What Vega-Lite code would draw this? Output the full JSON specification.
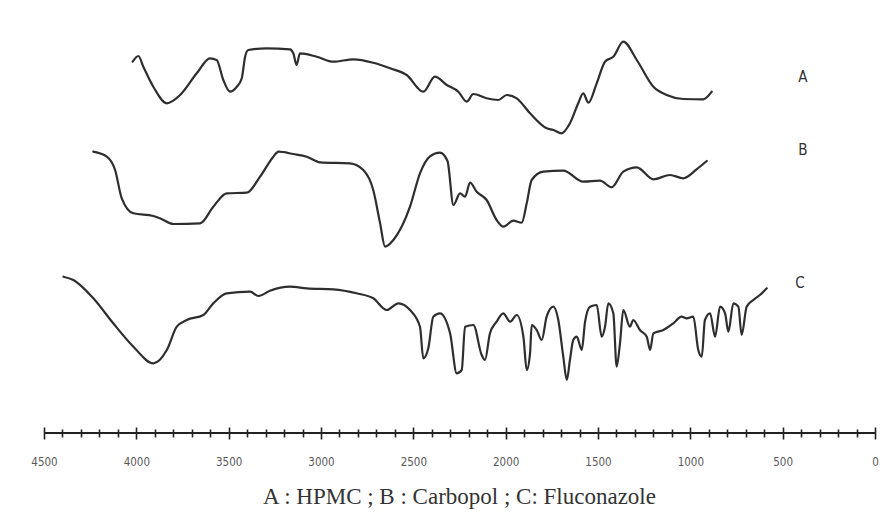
{
  "$schema": "https://vega.github.io/schema/vega-lite/v6.json",
  "autosize": "none",
  "width": 831,
  "height": 413,
  "padding": {"left": 44, "top": 20, "right": 14, "bottom": 86},
  "background": "white",
  "view": {"stroke": null},
  "config": {"axis": {"grid": false}},
  "title": {"text": "A : HPMC ; B : Carbopol ; C: Fluconazole", "orient": "bottom", "font": "Liberation Serif", "fontSize": 23, "fontWeight": "normal", "color": "#333333", "offset": 18, "anchor": "middle"},
  "datasets": {
    "spectra": [
      {"s":"A","wn":4020,"t":371.3},{"s":"A","wn":3989,"t":377},{"s":"A","wn":3962,"t":366.3},{"s":"A","wn":3908,"t":346.3},{"s":"A","wn":3835,"t":329.7},{"s":"A","wn":3763,"t":338},{"s":"A","wn":3673,"t":359.7},{"s":"A","wn":3601,"t":374.7},{"s":"A","wn":3565,"t":373},{"s":"A","wn":3529,"t":353},{"s":"A","wn":3493,"t":341.3},{"s":"A","wn":3456,"t":346.3},{"s":"A","wn":3429,"t":354.7},{"s":"A","wn":3411,"t":376.3},{"s":"A","wn":3394,"t":383},{"s":"A","wn":3294,"t":384.7},{"s":"A","wn":3168,"t":383.7},{"s":"A","wn":3150,"t":379.7},{"s":"A","wn":3132,"t":368},{"s":"A","wn":3114,"t":379.7},{"s":"A","wn":3023,"t":376.3},{"s":"A","wn":2933,"t":371.3},{"s":"A","wn":2825,"t":373.7},{"s":"A","wn":2717,"t":370.3},{"s":"A","wn":2626,"t":364.7},{"s":"A","wn":2536,"t":358},{"s":"A","wn":2446,"t":341.3},{"s":"A","wn":2383,"t":356.3},{"s":"A","wn":2319,"t":348},{"s":"A","wn":2256,"t":341.3},{"s":"A","wn":2211,"t":331.3},{"s":"A","wn":2175,"t":339},{"s":"A","wn":2103,"t":334.7},{"s":"A","wn":2040,"t":333},{"s":"A","wn":1994,"t":338},{"s":"A","wn":1940,"t":334.7},{"s":"A","wn":1868,"t":319.7},{"s":"A","wn":1778,"t":304.7},{"s":"A","wn":1742,"t":303},{"s":"A","wn":1697,"t":299.7},{"s":"A","wn":1652,"t":309.7},{"s":"A","wn":1607,"t":329.7},{"s":"A","wn":1580,"t":339.7},{"s":"A","wn":1552,"t":330.3},{"s":"A","wn":1507,"t":349.7},{"s":"A","wn":1462,"t":371.3},{"s":"A","wn":1417,"t":376.3},{"s":"A","wn":1363,"t":391.3},{"s":"A","wn":1290,"t":373},{"s":"A","wn":1200,"t":346.3},{"s":"A","wn":1128,"t":338},{"s":"A","wn":1038,"t":334},{"s":"A","wn":930,"t":333.7},{"s":"A","wn":884,"t":341.3},
      {"s":"B","wn":4233,"t":281.3},{"s":"B","wn":4160,"t":276.3},{"s":"B","wn":4115,"t":263},{"s":"B","wn":4079,"t":234.7},{"s":"B","wn":4016,"t":219.7},{"s":"B","wn":3908,"t":217},{"s":"B","wn":3872,"t":214.7},{"s":"B","wn":3800,"t":209},{"s":"B","wn":3655,"t":209.7},{"s":"B","wn":3583,"t":226.3},{"s":"B","wn":3511,"t":239.7},{"s":"B","wn":3402,"t":240.3},{"s":"B","wn":3330,"t":256.3},{"s":"B","wn":3258,"t":276.3},{"s":"B","wn":3231,"t":281.3},{"s":"B","wn":3150,"t":279},{"s":"B","wn":3077,"t":276.3},{"s":"B","wn":3005,"t":270.7},{"s":"B","wn":2843,"t":269.7},{"s":"B","wn":2771,"t":263},{"s":"B","wn":2717,"t":243},{"s":"B","wn":2680,"t":209.7},{"s":"B","wn":2653,"t":186.3},{"s":"B","wn":2608,"t":193},{"s":"B","wn":2518,"t":226.3},{"s":"B","wn":2464,"t":259.7},{"s":"B","wn":2410,"t":276.7},{"s":"B","wn":2356,"t":280.3},{"s":"B","wn":2315,"t":272},{"s":"B","wn":2283,"t":228},{"s":"B","wn":2247,"t":239.7},{"s":"B","wn":2220,"t":236.3},{"s":"B","wn":2193,"t":250.3},{"s":"B","wn":2157,"t":241.3},{"s":"B","wn":2103,"t":233},{"s":"B","wn":2049,"t":213},{"s":"B","wn":2013,"t":206.3},{"s":"B","wn":1959,"t":212.3},{"s":"B","wn":1913,"t":210.3},{"s":"B","wn":1886,"t":229.7},{"s":"B","wn":1859,"t":253},{"s":"B","wn":1796,"t":261.3},{"s":"B","wn":1688,"t":262.3},{"s":"B","wn":1580,"t":251.3},{"s":"B","wn":1489,"t":252.3},{"s":"B","wn":1426,"t":245.7},{"s":"B","wn":1363,"t":261.3},{"s":"B","wn":1290,"t":265.7},{"s":"B","wn":1200,"t":253.7},{"s":"B","wn":1110,"t":258},{"s":"B","wn":1038,"t":254.7},{"s":"B","wn":966,"t":263.7},{"s":"B","wn":911,"t":272},
      {"s":"C","wn":4395,"t":156.3},{"s":"C","wn":4341,"t":153},{"s":"C","wn":4233,"t":134.7},{"s":"C","wn":4125,"t":109.7},{"s":"C","wn":4016,"t":86.3},{"s":"C","wn":3908,"t":69.7},{"s":"C","wn":3835,"t":83},{"s":"C","wn":3781,"t":106.3},{"s":"C","wn":3727,"t":113},{"s":"C","wn":3637,"t":118},{"s":"C","wn":3583,"t":129.7},{"s":"C","wn":3511,"t":139.7},{"s":"C","wn":3384,"t":141.3},{"s":"C","wn":3339,"t":137},{"s":"C","wn":3276,"t":142.3},{"s":"C","wn":3168,"t":146.3},{"s":"C","wn":3077,"t":144.7},{"s":"C","wn":2933,"t":143.7},{"s":"C","wn":2807,"t":139.7},{"s":"C","wn":2717,"t":134.7},{"s":"C","wn":2644,"t":123},{"s":"C","wn":2581,"t":129.7},{"s":"C","wn":2518,"t":123},{"s":"C","wn":2464,"t":106.3},{"s":"C","wn":2446,"t":74.7},{"s":"C","wn":2419,"t":84.7},{"s":"C","wn":2392,"t":116.3},{"s":"C","wn":2356,"t":119.7},{"s":"C","wn":2301,"t":99.7},{"s":"C","wn":2265,"t":59.7},{"s":"C","wn":2238,"t":63},{"s":"C","wn":2220,"t":106.3},{"s":"C","wn":2175,"t":108},{"s":"C","wn":2130,"t":78},{"s":"C","wn":2112,"t":73},{"s":"C","wn":2085,"t":99.7},{"s":"C","wn":2049,"t":111.3},{"s":"C","wn":2013,"t":119.7},{"s":"C","wn":1976,"t":111.3},{"s":"C","wn":1940,"t":118},{"s":"C","wn":1904,"t":96.3},{"s":"C","wn":1886,"t":63},{"s":"C","wn":1868,"t":79.7},{"s":"C","wn":1859,"t":108},{"s":"C","wn":1832,"t":103},{"s":"C","wn":1805,"t":93},{"s":"C","wn":1778,"t":116.3},{"s":"C","wn":1742,"t":126.3},{"s":"C","wn":1715,"t":113},{"s":"C","wn":1688,"t":76.3},{"s":"C","wn":1669,"t":53},{"s":"C","wn":1652,"t":73},{"s":"C","wn":1634,"t":93},{"s":"C","wn":1615,"t":96.3},{"s":"C","wn":1588,"t":83},{"s":"C","wn":1570,"t":111.3},{"s":"C","wn":1543,"t":126.3},{"s":"C","wn":1507,"t":128},{"s":"C","wn":1480,"t":96.3},{"s":"C","wn":1462,"t":106.3},{"s":"C","wn":1444,"t":129.7},{"s":"C","wn":1417,"t":119.7},{"s":"C","wn":1399,"t":66.3},{"s":"C","wn":1381,"t":89.7},{"s":"C","wn":1363,"t":123},{"s":"C","wn":1327,"t":106.3},{"s":"C","wn":1309,"t":113},{"s":"C","wn":1273,"t":103},{"s":"C","wn":1236,"t":96.3},{"s":"C","wn":1218,"t":83},{"s":"C","wn":1200,"t":99.7},{"s":"C","wn":1146,"t":103},{"s":"C","wn":1092,"t":109.7},{"s":"C","wn":1047,"t":116.3},{"s":"C","wn":1020,"t":114.7},{"s":"C","wn":984,"t":116.3},{"s":"C","wn":957,"t":83},{"s":"C","wn":938,"t":76.3},{"s":"C","wn":921,"t":113},{"s":"C","wn":893,"t":119.7},{"s":"C","wn":866,"t":96.3},{"s":"C","wn":839,"t":126.3},{"s":"C","wn":812,"t":119.7},{"s":"C","wn":794,"t":101.3},{"s":"C","wn":767,"t":129.7},{"s":"C","wn":740,"t":126.3},{"s":"C","wn":722,"t":98},{"s":"C","wn":695,"t":126.3},{"s":"C","wn":659,"t":133},{"s":"C","wn":623,"t":138},{"s":"C","wn":586,"t":144.7}
    ],
    "labels": [
      {"s":"A","wn":390,"t":356},
      {"s":"B","wn":390,"t":283},
      {"s":"C","wn":406,"t":150}
    ]
  },
  "layer": [
    {
      "data": {"name": "spectra"},
      "mark": {"type": "line", "color": "#2e2e2e", "strokeWidth": 2.2, "strokeJoin": "round", "strokeCap": "round", "interpolate": "monotone"},
      "encoding": {
        "x": {"field": "wn", "type": "quantitative", "scale": {"domain": [0, 4500], "reverse": true, "nice": false, "zero": false},
              "axis": {"orient": "bottom", "title": null, "values": [0,500,1000,1500,2000,2500,3000,3500,4000,4500], "format": "d", "domain": false, "tickSize": 12, "offset": -6, "tickColor": "#222222", "tickWidth": 1.6, "labelPadding": 17, "labelFont": "Liberation Sans Narrow, DejaVu Sans Condensed, Liberation Sans, sans-serif", "labelFontSize": 11.5, "labelColor": "#5a5a5a", "labelFlush": false}},
        "y": {"field": "t", "type": "quantitative", "scale": {"domain": [0, 413], "nice": false}, "axis": null},
        "detail": {"field": "s"}
      }
    },
    {
      "data": {"values": [{"a": 4500, "b": 0}]},
      "mark": {"type": "rule", "color": "#222222", "strokeWidth": 2},
      "encoding": {
        "x": {"field": "a", "type": "quantitative", "scale": {"domain": [0, 4500], "reverse": true, "nice": false, "zero": false},
              "axis": {"orient": "bottom", "title": null, "values": [100,200,300,400,600,700,800,900,1100,1200,1300,1400,1600,1700,1800,1900,2100,2200,2300,2400,2600,2700,2800,2900,3100,3200,3300,3400,3600,3700,3800,3900,4100,4200,4300,4400], "domain": false, "labels": false, "tickSize": 8, "offset": -4, "tickColor": "#222222", "tickWidth": 1.6}},
        "x2": {"field": "b"},
        "y": {"datum": 0}
      }
    },
    {
      "data": {"name": "labels"},
      "mark": {"type": "text", "font": "Liberation Sans Narrow, DejaVu Sans Condensed, Liberation Sans, sans-serif", "fontSize": 15, "color": "#333333", "align": "center", "baseline": "middle"},
      "encoding": {
        "x": {"field": "wn", "type": "quantitative", "axis": null},
        "y": {"field": "t", "type": "quantitative"},
        "text": {"field": "s"}
      }
    }
  ],
  "resolve": {"axis": {"x": "independent"}}
}
